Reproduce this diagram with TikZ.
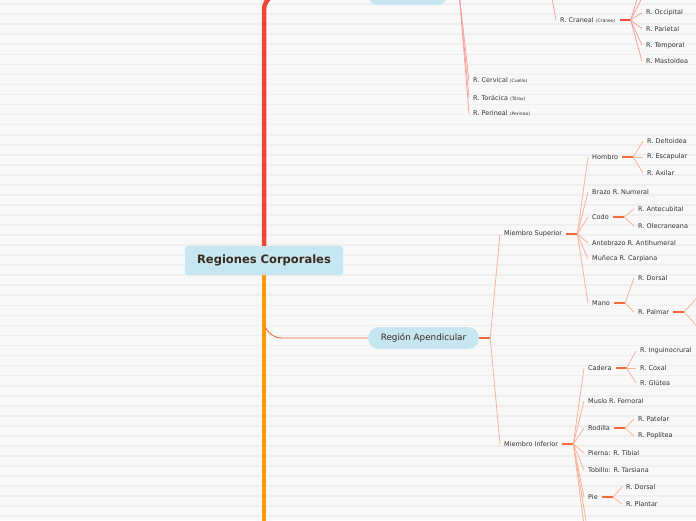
\documentclass[tikz,border=0pt]{standalone}
\usepackage{fontspec}
\setmainfont{DejaVu Sans}
\definecolor{paper}{HTML}{F8F8F8}
\definecolor{stripe}{HTML}{EFEFEF}
\definecolor{boxblue}{HTML}{C6E6F1}
\definecolor{txtdark}{HTML}{3B2A1E}
\definecolor{txtgrey}{HTML}{333333}
\definecolor{trunkred}{HTML}{EE4636}
\definecolor{trunkorange}{HTML}{FF9800}
\definecolor{axline}{HTML}{F6A4A0}
\definecolor{axstubc}{HTML}{F0483A}
\definecolor{apline}{HTML}{F9B39B}
\definecolor{apstubc}{HTML}{F26A3A}
\newcommand\parnote[1]{{\fontsize{4.5}{5}\selectfont #1}}
\begin{document}
\begin{tikzpicture}[x=1pt,y=-1pt,
	lbl/.style={anchor=west,inner xsep=4pt,inner ysep=1pt,text=txtgrey,font=\fontsize{6.5}{7}\selectfont},
	topic/.style={fill=boxblue,text=txtdark,inner sep=0pt},
	axfan/.style={draw=axline,line width=0.8pt},
	apfan/.style={draw=apline,line width=0.8pt},
	axstub/.style={draw=axstubc,line width=1.5pt},
	apstub/.style={draw=apstubc,line width=1.5pt}]
	\useasboundingbox (0,0) rectangle (696,520);
	\clip (0,0) rectangle (696,520);
	% paper
	\fill[paper] (0,0) rectangle (696,520);
	\foreach \i in {0,...,51}\fill[stripe] (0,{3.3+10.04*\i}) rectangle ++(696,1.7);
	% main topics
	\node[topic,minimum width=158pt,minimum height=29pt,rounded corners=3pt,font=\fontsize{11.5}{13}\selectfont\bfseries] (regiones) at (264,260.5) {Regiones Corporales};
	\node[topic,minimum width=79pt,minimum height=22pt,rounded corners=10pt] (axial) at (407.5,-6) {};
	\node[topic,minimum width=111pt,minimum height=22pt,rounded corners=11pt,font=\fontsize{8.8}{10}\selectfont] (apend) at (423.5,338) {Región Apendicular};
	\draw[draw=apstubc,line width=0.9pt,rounded corners=18pt] (264,318) -- (264,338) -- (apend.west);
	\draw[trunkred,line width=4.5pt,rounded corners=16pt] (regiones.north) -- (264,-6) -- (axial.west);
	\draw[trunkorange,line width=4.5pt] (regiones.south) -- (264,530);
	% region axial
	\node[lbl] (cerv) at (469,80.7) {R. Cervical \parnote{(Cuello)}};
	\node[lbl] (tor) at (469,97.7) {R. Torácica \parnote{(Tórax)}};
	\node[lbl] (per) at (469,113.7) {R. Perineal \parnote{(Perineo)}};
	\draw[axstub] (axial.east) -- ++(12,0) coordinate (axial-f);
	\foreach \c in {cerv,tor,per}\draw[axfan] (axial-f) -- (\c.west);
	\coordinate (cefal-f) at (545,-40);
	\node[lbl] (cran) at (556,20) {R. Craneal \parnote{(Cráneo)}};
	\draw[axfan] (cefal-f) -- (cran.west);
	\node[lbl] (occ) at (642,12.7) {R. Occipital};
	\node[lbl] (par) at (642,28.7) {R. Parietal};
	\node[lbl] (tem) at (642,45.3) {R. Temporal};
	\node[lbl] (mas) at (642,61.3) {R. Mastoidea};
	\coordinate (cran-a) at (643,-4);
	\coordinate (cran-b) at (643,-20);
	\draw[axstub] (cran.east) -- ++(11,0) coordinate (cran-f);
	\foreach \c in {occ,par,tem,mas}\draw[axfan] (cran-f) -- (\c.west);
	\foreach \c in {cran-a,cran-b}\draw[axfan] (cran-f) -- (\c);
	% region apendicular
	\node[lbl] (msup) at (500,234) {Miembro Superior};
	\node[lbl] (minf) at (500,444) {Miembro Inferior};
	\draw[apstub] (apend.east) -- ++(11,0) coordinate (apend-f);
	\foreach \c in {msup,minf}\draw[apfan] (apend-f) -- (\c.west);
	% miembro superior
	\node[lbl] (hom) at (588,157) {Hombro};
	\node[lbl] (bra) at (588,192) {Brazo R. Numeral};
	\node[lbl] (codo) at (588,217) {Codo};
	\node[lbl] (ante) at (588,243) {Antebrazo R. Antihumeral};
	\node[lbl] (mun) at (588,259) {Muñeca R. Carpiana};
	\node[lbl] (mano) at (588,303) {Mano};
	\draw[apstub] (msup.east) -- ++(11,0) coordinate (msup-f);
	\foreach \c in {hom,bra,codo,ante,mun,mano}\draw[apfan] (msup-f) -- (\c.west);
	\node[lbl] (del) at (643,141) {R. Deltoidea};
	\node[lbl] (esc) at (643,157) {R. Escapular};
	\node[lbl] (axi) at (643,173) {R. Axilar};
	\draw[apstub] (hom.east) -- ++(11,0) coordinate (hom-f);
	\foreach \c in {del,esc,axi}\draw[apfan] (hom-f) -- (\c.west);
	\node[lbl] (antec) at (634,209) {R. Antecubital};
	\node[lbl] (olec) at (634,226) {R. Olecraneana};
	\draw[apstub] (codo.east) -- ++(11,0) coordinate (codo-f);
	\foreach \c in {antec,olec}\draw[apfan] (codo-f) -- (\c.west);
	\node[lbl] (mdor) at (634,278) {R. Dorsal};
	\node[lbl] (pal) at (634,312) {R. Palmar};
	\draw[apstub] (mano.east) -- ++(11,0) coordinate (mano-f);
	\foreach \c in {mdor,pal}\draw[apfan] (mano-f) -- (\c.west);
	\coordinate (pal-a) at (704,290);
	\coordinate (pal-b) at (704,334);
	\draw[apstub] (pal.east) -- ++(11,0) coordinate (pal-f);
	\foreach \c in {pal-a,pal-b}\draw[apfan] (pal-f) -- (\c);
	% miembro inferior
	\node[lbl] (cad) at (584,368) {Cadera};
	\node[lbl] (mus) at (584,401) {Muslo R. Femoral};
	\node[lbl] (rod) at (584,428) {Rodilla};
	\node[lbl] (pier) at (584,453) {Pierna: R. Tibial};
	\node[lbl] (tob) at (584,470) {Tobillo: R. Tarsiana};
	\node[lbl] (pie) at (584,497) {Pie};
	\coordinate (minf-a) at (590,545);
	\coordinate (minf-b) at (590,570);
	\draw[apstub] (minf.east) -- ++(11,0) coordinate (minf-f);
	\foreach \c in {cad,mus,rod,pier,tob,pie}\draw[apfan] (minf-f) -- (\c.west);
	\foreach \c in {minf-a,minf-b}\draw[apfan] (minf-f) -- (\c);
	\node[lbl] (ing) at (636,351) {R. Inguinocrural};
	\node[lbl] (cox) at (636,368) {R. Coxal};
	\node[lbl] (glu) at (636,383) {R. Glútea};
	\draw[apstub] (cad.east) -- ++(11,0) coordinate (cad-f);
	\foreach \c in {ing,cox,glu}\draw[apfan] (cad-f) -- (\c.west);
	\node[lbl] (pat) at (634,419) {R. Patelar};
	\node[lbl] (pop) at (634,436) {R. Poplítea};
	\draw[apstub] (rod.east) -- ++(11,0) coordinate (rod-f);
	\foreach \c in {pat,pop}\draw[apfan] (rod-f) -- (\c.west);
	\node[lbl] (pdor) at (622,487) {R. Dorsal};
	\node[lbl] (plan) at (622,504) {R. Plantar};
	\draw[apstub] (pie.east) -- ++(11,0) coordinate (pie-f);
	\foreach \c in {pdor,plan}\draw[apfan] (pie-f) -- (\c.west);
\end{tikzpicture}
\end{document}
